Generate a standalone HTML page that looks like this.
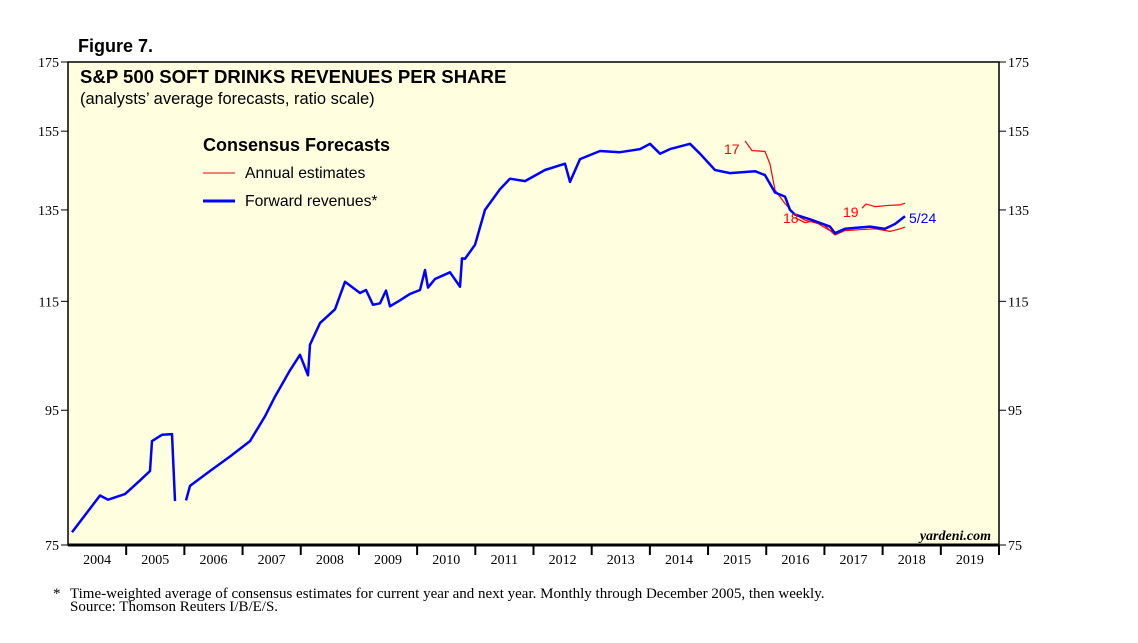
<!DOCTYPE html>
<html><head><meta charset="utf-8"><style>
body{margin:0;background:#fff;width:1138px;height:638px;overflow:hidden;font-family:"Liberation Sans",sans-serif}
</style></head><body>
<svg width="1138" height="638" xmlns="http://www.w3.org/2000/svg">
<text x="78" y="52" font-size="18" font-weight="bold">Figure 7.</text>
<rect x="68" y="62" width="931" height="483" fill="#ffffe0" stroke="#000" stroke-width="1.5"/>
<line x1="68" y1="545" x2="999" y2="545" stroke="#000" stroke-width="3"/>
<text x="80" y="83" font-size="18.6" font-weight="bold">S&amp;P 500 SOFT DRINKS REVENUES PER SHARE</text>
<text x="80" y="104" font-size="16.5">(analysts’ average forecasts, ratio scale)</text>
<text x="203" y="151" font-size="18" font-weight="bold">Consensus Forecasts</text>
<line x1="203" y1="173" x2="235" y2="173" stroke="#e00" stroke-width="1"/>
<text x="245" y="178" font-size="15.7">Annual estimates</text>
<line x1="203" y1="201" x2="235" y2="201" stroke="#00f" stroke-width="3"/>
<text x="245" y="206" font-size="15.7">Forward revenues*</text>
<text x="991" y="540" font-size="14" font-style="italic" font-weight="bold" font-family="Liberation Serif" text-anchor="end">yardeni.com</text>
<g id="axes"></g>
<g id="series"></g>
<text x="53" y="598" font-size="15" font-family="Liberation Serif">*</text>
<text x="70" y="598" font-size="15" font-family="Liberation Serif">Time-weighted average of consensus estimates for current year and next year. Monthly through December 2005, then weekly.</text>
<text x="70" y="611" font-size="15" font-family="Liberation Serif">Source: Thomson Reuters I/B/E/S.</text>
</svg>
<script>
const yTicks=[75,95,115,135,155,175];
const years=[2004,2005,2006,2007,2008,2009,2010,2011,2012,2013,2014,2015,2016,2017,2018,2019];
const fwdX=[72,100,108,125,140,150,152,162,172,175,186,190,210,230,250,265,275,290,300,308,310,320,335,345,360,366,373,380,386,390,400,410,420,425,428,435,450,460,462,465,475,485,500,510,525,545,565,570,580,600,620,640,650,660,670,690,700,715,730,755,765,775,785,790,795,810,830,835,845,870,885,895,905];
const fwdV=[76.7,81.8,81.2,82,84,85.4,90,91,91.1,81,81.1,83.2,85.4,87.6,90,94,97.3,101.9,104.7,101,106.6,110.7,113.4,119,116.7,117.3,114.3,114.6,117.2,114,115.2,116.5,117.3,121.5,117.8,119.6,121,118,124,123.9,127,135,140,142.6,142,144.8,146.4,141.8,147.6,149.7,149.4,150.2,151.6,149,150.2,151.6,149,144.8,144,144.5,143.5,139.2,138.2,135,133.9,132.8,131.1,129.6,130.6,131.1,130.6,131.7,133.5];
const e17X=[745,752,765,770,775,785,795,805,818,830,835];
const e17V=[152.4,149.8,149.6,146.3,139.8,136.5,134,132.6,131.8,130.2,129.8];
const e18X=[795,805,815,825,835,845,860,875,890,900,905];
const e18V=[133.2,132,132.5,131.3,129.2,130.2,130.4,130.6,130.0,130.6,131.0];
const e19X=[862,866,875,890,900,905];
const e19V=[135.4,136.4,135.8,136.1,136.2,136.6];
const L=68,R=999,T=62,B=545;
const yearToX=y=>L+(y-2004)*(R-L)/16;
const pxToYear=p=>2004+(p-L)/((R-L)/16);
const ys=v=>T+(Math.log(175)-Math.log(v))/(Math.log(175)-Math.log(75))*(B-T);
const NS="http://www.w3.org/2000/svg";
const ax=document.getElementById('axes'),se=document.getElementById('series');
function mk(t,a,p){const e=document.createElementNS(NS,t);for(const k in a)e.setAttribute(k,a[k]);p.appendChild(e);return e;}
yTicks.forEach(v=>{const y=ys(v);
 mk('line',{x1:L-7,y1:y,x2:L,y2:y,stroke:'#000'},ax);
 mk('line',{x1:R,y1:y,x2:R+7,y2:y,stroke:'#000'},ax);
 let t=mk('text',{x:L-9,y:y+5,'font-size':14,'font-family':'Liberation Serif','text-anchor':'end'},ax);t.textContent=v;
 
 
 t=mk('text',{x:R+9,y:y+5,'font-size':14,'font-family':'Liberation Serif'},ax);t.textContent=v;
 
 
});
years.forEach((yr,i)=>{const x0=yearToX(yr);
 if(i>0)mk('line',{x1:x0,y1:B,x2:x0,y2:B+10,stroke:'#000','stroke-width':2},ax);
 const t=mk('text',{x:x0+(R-L)/32,y:B+19,'font-size':14,'font-family':'Liberation Serif','text-anchor':'middle'},ax);t.textContent=yr;
 
 
});
mk('line',{x1:R,y1:B,x2:R,y2:B+10,stroke:'#000','stroke-width':2},ax);
function line(X,V,c,w,n){const d=X.map((x,i)=>(i?'L':'M')+yearToX(pxToYear(x)).toFixed(1)+' '+ys(V[i]).toFixed(1)).join(' ');
 const p=mk('path',{d:d,fill:'none',stroke:c,'stroke-width':w,'stroke-linejoin':'round'},se);
 
 }
line(e17X,e17V,'#f00',1.2,'estimate-2017-line');
line(e18X,e18V,'#f00',1.2,'estimate-2018-line');
line(e19X,e19V,'#f00',1.2,'estimate-2019-line');
line(fwdX.slice(0,10),fwdV.slice(0,10),'#00f',2.5,'forward-revenues-line-monthly');
line(fwdX.slice(10),fwdV.slice(10),'#00f',2.5,'forward-revenues-line-weekly');
function lab(x,y,s,c,n){const t=mk('text',{x:x,y:y,'font-size':14,fill:c},se);t.textContent=s;
 
 }
lab(724,154,'17','#f00','label-17');
lab(783,223,'18','#f00','label-18');
lab(843,217,'19','#f00','label-19');
lab(909,223,'5/24','#00f','label-date');
</script>
</body></html>
